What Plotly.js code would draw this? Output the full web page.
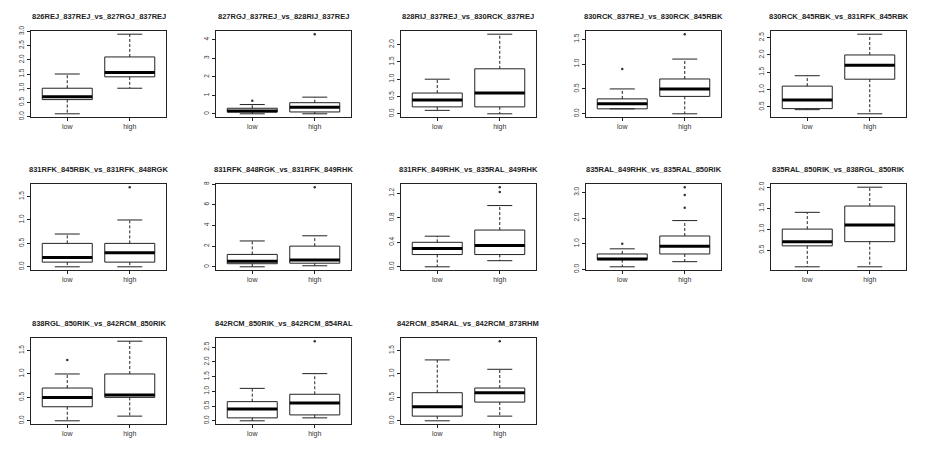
<!DOCTYPE html>
<html>
<head>
<meta charset="utf-8">
<script src="https://cdn.plot.ly/plotly-3.0.1.min.js"></script>
<style>html,body{margin:0;padding:0;background:#fff;}#chart{width:925px;height:462px;}</style>
</head>
<body>
<div id="chart"></div>
<script>
const titles = [
  "826REJ_837REJ_vs_827RGJ_837REJ",
  "827RGJ_837REJ_vs_828RIJ_837REJ",
  "828RIJ_837REJ_vs_830RCK_837REJ",
  "830RCK_837REJ_vs_830RCK_845RBK",
  "830RCK_845RBK_vs_831RFK_845RBK",
  "831RFK_845RBK_vs_831RFK_848RGK",
  "831RFK_848RGK_vs_831RFK_849RHK",
  "831RFK_849RHK_vs_835RAL_849RHK",
  "835RAL_849RHK_vs_835RAL_850RIK",
  "835RAL_850RIK_vs_838RGL_850RIK",
  "838RGL_850RIK_vs_842RCM_850RIK",
  "842RCM_850RIK_vs_842RCM_854RAL",
  "842RCM_854RAL_vs_842RCM_873RHM"
];
const groups = ["low", "high"];

// low group: whisker min, Q1, median, Q3, whisker max, outliers
const lowMin = [0.1, 0.0, 0.1, 0.1, 0.42, 0.0, 0.0, 0.0, 0.1, 0.1, 0.0, 0.0, 0.0];
const lowQ1  = [0.6, 0.1, 0.2, 0.1, 0.45, 0.1, 0.3, 0.2, 0.38, 0.6, 0.3, 0.1, 0.1];
const lowMed = [0.7, 0.15, 0.4, 0.2, 0.7, 0.2, 0.55, 0.3, 0.4, 0.7, 0.5, 0.4, 0.3];
const lowQ3  = [1.0, 0.3, 0.6, 0.3, 1.1, 0.5, 1.2, 0.4, 0.6, 1.0, 0.7, 0.65, 0.6];
const lowMax = [1.5, 0.5, 1.0, 0.5, 1.4, 0.7, 2.5, 0.5, 0.8, 1.4, 1.0, 1.1, 1.3];
const lowOut = [[], [0.7], [], [0.9], [], [], [], [], [1.0], [], [1.3], [], []];

// high group
const highMin = [1.0, 0.0, 0.0, 0.0, 0.3, 0.0, 0.1, 0.1, 0.3, 0.1, 0.1, 0.1, 0.1];
const highQ1  = [1.4, 0.1, 0.2, 0.35, 1.3, 0.1, 0.35, 0.2, 0.6, 0.7, 0.5, 0.2, 0.4];
const highMed = [1.55, 0.35, 0.6, 0.5, 1.7, 0.3, 0.65, 0.35, 0.9, 1.1, 0.55, 0.6, 0.6];
const highQ3  = [2.1, 0.6, 1.3, 0.7, 2.0, 0.5, 2.0, 0.6, 1.3, 1.55, 1.0, 0.9, 0.7];
const highMax = [2.9, 0.9, 2.3, 1.1, 2.6, 1.0, 3.0, 1.0, 1.9, 2.0, 1.7, 1.6, 1.1];
const highOut = [[], [4.3], [], [1.6], [], [1.7], [7.7], [1.22, 1.3], [2.4, 2.9, 3.2], [], [], [2.7], [1.7]];

// y tick labels per panel
const yTickLabels = [
  ["0.0","0.5","1.0","1.5","2.0","2.5","3.0"],
  ["0","1","2","3","4"],
  ["0.0","0.5","1.0","1.5","2.0"],
  ["0.0","0.5","1.0","1.5"],
  ["0.5","1.0","1.5","2.0","2.5"],
  ["0.0","0.5","1.0","1.5"],
  ["0","2","4","6","8"],
  ["0.0","0.4","0.8","1.2"],
  ["0.0","1.0","2.0","3.0"],
  ["0.5","1.0","1.5","2.0"],
  ["0.0","0.5","1.0","1.5"],
  ["0.0","0.5","1.0","1.5","2.0","2.5"],
  ["0.0","0.5","1.0","1.5"]
];

const W = 925, H = 462;
const colLeft = [31, 216, 401, 586, 771];
const rowTop = [31, 184, 338];
const boxW = 135, boxH = 86;
const ink = "#222";
const textCol = "#333";
const fontFam = "Liberation Sans, Arial, sans-serif";

const data = [];
const layout = {
  width: W, height: H,
  margin: {l: 0, r: 0, t: 0, b: 0},
  paper_bgcolor: "#fff", plot_bgcolor: "#fff",
  showlegend: false,
  annotations: [],
  font: {family: fontFam, color: textCol}
};

for (let i = 0; i < titles.length; i++) {
  const r = Math.floor(i / 5), c = i % 5;
  const n = i + 1;
  const xa = n === 1 ? "x" : "x" + n;
  const ya = n === 1 ? "y" : "y" + n;
  const xk = n === 1 ? "xaxis" : "xaxis" + n;
  const yk = n === 1 ? "yaxis" : "yaxis" + n;

  const lo = [lowMin[i], highMin[i]];
  const q1 = [lowQ1[i], highQ1[i]];
  const md = [lowMed[i], highMed[i]];
  const q3 = [lowQ3[i], highQ3[i]];
  const hi = [lowMax[i], highMax[i]];
  const outs = [lowOut[i], highOut[i]];

  // box body
  data.push({
    type: "box", x: [1, 2], q1: q1, median: md, q3: q3,
    lowerfence: q1, upperfence: q3,
    width: 0.8, whiskerwidth: 0, boxpoints: false,
    fillcolor: "#fff", line: {color: ink, width: 1},
    xaxis: xa, yaxis: ya, hoverinfo: "skip"
  });

  const wx = [], wy = [], cx = [], cy = [], mx = [], my = [], ox = [], oy = [];
  for (let g = 0; g < 2; g++) {
    const p = g + 1;
    wx.push(p, p, null, p, p, null);
    wy.push(q3[g], hi[g], null, q1[g], lo[g], null);
    cx.push(p - 0.2, p + 0.2, null, p - 0.2, p + 0.2, null);
    cy.push(hi[g], hi[g], null, lo[g], lo[g], null);
    mx.push(p - 0.4, p + 0.4, null);
    my.push(md[g], md[g], null);
    outs[g].forEach(v => { ox.push(p); oy.push(v); });
  }
  // dashed whiskers
  data.push({type: "scatter", mode: "lines", x: wx, y: wy, xaxis: xa, yaxis: ya,
    line: {color: ink, width: 1, dash: "3px,2px"}, hoverinfo: "skip", connectgaps: false});
  // staples
  data.push({type: "scatter", mode: "lines", x: cx, y: cy, xaxis: xa, yaxis: ya,
    line: {color: ink, width: 1}, hoverinfo: "skip", connectgaps: false});
  // thick medians
  data.push({type: "scatter", mode: "lines", x: mx, y: my, xaxis: xa, yaxis: ya,
    line: {color: "#000", width: 3}, hoverinfo: "skip", connectgaps: false});
  // outliers
  data.push({type: "scatter", mode: "markers", x: ox, y: oy, xaxis: xa, yaxis: ya,
    marker: {symbol: "circle", size: 2.5, color: "#333"},
    hoverinfo: "skip"});

  // ranges like R (4% padding)
  const all = lo.concat(hi, q1, q3, outs[0], outs[1]);
  const mn = Math.min.apply(null, all), mxv = Math.max.apply(null, all);
  const pad = (mxv - mn) * 0.04;

  const x0 = colLeft[c] / W, x1 = (colLeft[c] + boxW) / W;
  const yTop = 1 - rowTop[r] / H, yBot = 1 - (rowTop[r] + boxH) / H;

  layout[xk] = {
    domain: [x0, x1], anchor: ya, range: [0.42, 2.58],
    tickmode: "array", tickvals: [1, 2], ticktext: groups,
    ticks: "outside", ticklen: 3, tickcolor: ink, tickwidth: 1,
    showline: true, mirror: true, linecolor: ink, linewidth: 1,
    showgrid: false, zeroline: false,
    tickfont: {size: 7, color: textCol, family: fontFam}
  };
  layout[yk] = {
    domain: [yBot, yTop], anchor: xa, range: [mn - pad, mxv + pad],
    tickmode: "array", tickvals: yTickLabels[i].map(parseFloat), ticktext: yTickLabels[i],
    tickangle: -90,
    ticks: "outside", ticklen: 3, tickcolor: ink, tickwidth: 1,
    showline: true, mirror: true, linecolor: ink, linewidth: 1,
    showgrid: false, zeroline: false,
    tickfont: {size: 6.5, color: textCol, family: fontFam}
  };

  layout.annotations.push({
    xref: "paper", yref: "paper",
    x: (x0 + x1) / 2, y: 1 - (rowTop[r] - 15) / H,
    xanchor: "center", yanchor: "middle", showarrow: false,
    text: "<b>" + titles[i] + "</b>",
    font: {size: 7.5, color: "#222", family: fontFam}
  });
}

Plotly.newPlot("chart", data, layout, {staticPlot: true, displayModeBar: false});
</script>
</body>
</html>
